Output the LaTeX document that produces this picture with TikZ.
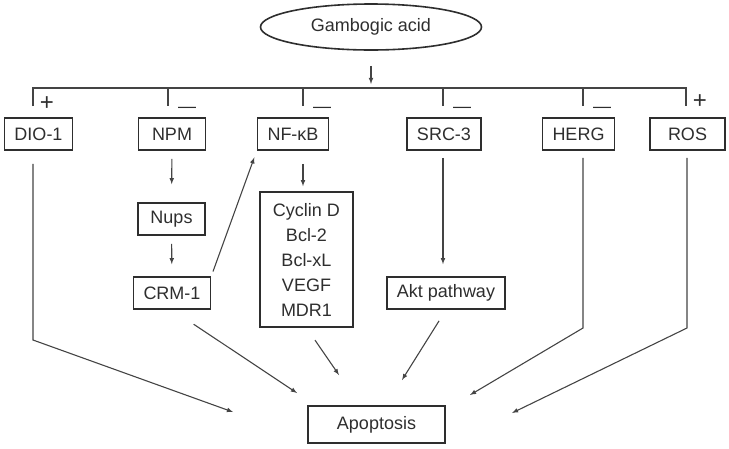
\documentclass[tikz,border=0pt]{standalone}
\usepackage{fontspec}
\setmainfont{Liberation Sans}
\usetikzlibrary{arrows,shapes.geometric}
\definecolor{ink}{HTML}{2E2E2E}
\definecolor{wire}{HTML}{444444}

\begin{document}
\begin{tikzpicture}[x=1pt,y=-1pt,
		box/.style={draw=ink, line width=1.6pt, text=ink, minimum height=32pt,
			minimum width=67pt, inner xsep=10pt, font=\fontsize{18}{21}\selectfont},
		link/.style={-latex, draw=wire, line width=1.1pt},
		tee/.style={draw=wire, line width=1.1pt},
		sign/.style={text=ink, inner sep=0pt, font=\fontsize{18}{21}\selectfont},
		plus/.style={sign, font=\fontsize{24}{26}\selectfont}]
		\useasboundingbox (0,0) rectangle (729,448);

		% drug
		\node[ellipse, draw=ink, line width=1.6pt, text=ink, minimum width=221pt,
			minimum height=46pt, font=\fontsize{18}{21}\selectfont] (gam) at (371,27) {Gambogic acid};

		% targets
		\node[box] (dio) at (38.5,134) {DIO-1};
		\node[box] (npm) at (172,134) {NPM};
		\node[box] (nfkb) at (293,134) {NF-κB};
		\node[box] (src) at (444,134) {SRC-3};
		\node[box] (herg) at (578.5,134) {HERG};
		\node[box, minimum width=75pt] (ros) at (687.5,134) {ROS};

		\node[box] (nups) at (171.5,219) {Nups};
		\node[box] (crm) at (172,293) {CRM-1};
		\node[box, align=center, minimum width=93pt, minimum height=135pt,
			font=\fontsize{18}{25}\selectfont] (genes) at (306.5,259.5) {Cyclin D\\Bcl-2\\Bcl-xL\\VEGF\\MDR1};
		\node[box] (akt) at (446,293) {Akt pathway};
		\node[box, minimum width=137pt, minimum height=37pt] (apo) at (376.5,424.5) {Apoptosis};

		% distribution bar
		\coordinate (bar) at (371,88);
		\coordinate (dio tee) at (33,106);
		\coordinate (npm tee) at (168,106);
		\coordinate (nfkb tee) at (303,106);
		\coordinate (src tee) at (443,106);
		\coordinate (herg tee) at (583,106);
		\coordinate (ros tee) at (686,106);
		\draw[tee] (dio tee) -- (dio tee |- bar) -- (ros tee |- bar) -- (ros tee);
		\draw[tee] (npm tee |- bar) -- (npm tee);
		\draw[tee] (nfkb tee |- bar) -- (nfkb tee);
		\draw[tee] (src tee |- bar) -- (src tee);
		\draw[tee] (herg tee |- bar) -- (herg tee);
		\draw[link, shorten <=15pt, shorten >=4pt] (gam) -- (gam |- bar);

		\node[plus] (dio sign) at (47,104) {+};
		\node[sign] (npm sign) at (187,110) {---};
		\node[sign] (nfkb sign) at (322,110) {---};
		\node[sign] (src sign) at (462,110) {---};
		\node[sign] (herg sign) at (602,110) {---};
		\node[plus] (ros sign) at (700,102) {+};

		% pathways
		\draw[link, shorten <=8pt, shorten >=18pt] (npm) -- (nups);
		\draw[link, shorten <=8pt, shorten >=12pt] (nups) -- (crm);
		\draw[link, shorten <=5pt, shorten >=7pt] (crm.north east) -- (nfkb.south west);
		\draw[link, shorten <=13pt, shorten >=5pt] (nfkb tee |- nfkb.south) -- (nfkb tee |- genes.north);
		\draw[link, shorten <=7pt, shorten >=12pt] (src tee |- src.south) -- (src tee |- akt.north);

		% into apoptosis
		\coordinate (bend dio) at (33,340);
		\coordinate (bend herg) at (583,328);
		\coordinate (bend ros) at (687,328);
		\coordinate (tip dio) at (233,412);
		\coordinate (tip crm) at (297,393);
		\coordinate (tip genes) at (339,375);
		\coordinate (tip akt) at (402,380);
		\coordinate (tip herg) at (470,395);
		\coordinate (tip ros) at (512,413);

		\draw[link, shorten <=13pt] (bend dio |- dio.south) -- (bend dio) -- (tip dio);
		\draw[link, shorten <=26pt] (crm.south) -- (tip crm);
		\draw[link, shorten <=15pt] (genes.south) -- (tip genes);
		\draw[link, shorten <=13pt] (akt.south) -- (tip akt);
		\draw[link, shorten <=7pt] (bend herg |- herg.south) -- (bend herg) -- (tip herg);
		\draw[link, shorten <=7pt] (bend ros |- ros.south) -- (bend ros) -- (tip ros);
	\end{tikzpicture}
\end{document}
